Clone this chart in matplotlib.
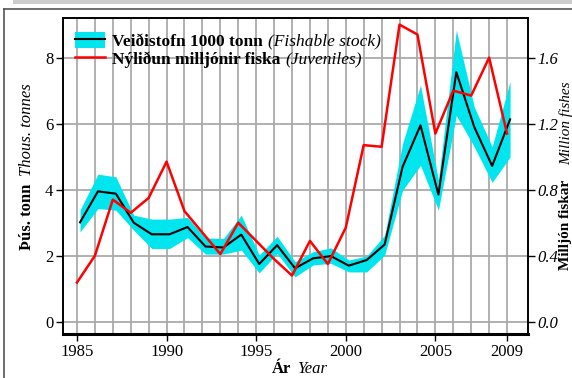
import matplotlib
matplotlib.use("Agg")
import matplotlib.pyplot as plt
from matplotlib.patches import Patch, Rectangle
from matplotlib.lines import Line2D

plt.rcParams['font.family'] = ['Liberation Serif', 'DejaVu Serif']

# fishable stock, 1000 tonnes (estimated start of year)
years = list(range(1985, 2010))
stofn = [3.01, 3.95, 3.88, 3.0, 2.65, 2.65, 2.87, 2.28, 2.25, 2.64, 1.75, 2.32, 1.62,
         1.92, 1.99, 1.70, 1.87, 2.34, 4.69, 5.95, 3.85, 7.56, 5.90, 4.72, 6.13]
stofn_upp = [3.38, 4.47, 4.39, 3.23, 3.11, 3.11, 3.16, 2.54, 2.52, 3.23, 2.02, 2.59, 1.82,
             2.12, 2.24, 1.87, 1.99, 2.62, 5.40, 7.16, 4.29, 8.83, 6.51, 5.30, 7.28]
stofn_nid = [2.72, 3.43, 3.38, 2.77, 2.22, 2.22, 2.55, 2.05, 2.05, 2.17, 1.48, 2.07, 1.36,
             1.72, 1.77, 1.51, 1.51, 2.02, 3.98, 4.74, 3.38, 6.25, 5.30, 4.22, 4.99]
# juveniles, million fish
nylidun = [0.238, 0.40, 0.74, 0.66, 0.75, 0.97, 0.67, 0.54, 0.41, 0.60, 0.49, 0.38, 0.28,
           0.49, 0.35, 0.57, 1.07, 1.06, 1.80, 1.74, 1.14, 1.40, 1.37, 1.60, 1.14]

xticks = [1985, 1990, 1995, 2000, 2005, 2009]
yticks = [0, 2, 4, 6, 8]
y2ticks = [0.0, 0.4, 0.8, 1.2, 1.6]

x_stofn = [y + 0.17 for y in years]

W, H = 572, 378
fig = plt.figure(figsize=(W/100, H/100), dpi=100)
ax = fig.add_axes([63/W, 1-334/H, 465/W, 316/H])

# frame decoration
fig.add_artist(Rectangle((13/W, 1-4/H), 1, 4/H, transform=fig.transFigure,
                         color='#cccccc', lw=0))
fig.add_artist(Line2D([3.5/W, 1], [1-8.5/H, 1-8.5/H], transform=fig.transFigure,
                      color='#555555', lw=1.2))
fig.add_artist(Line2D([3.5/W, 3.5/W], [0, 1-8.5/H], transform=fig.transFigure,
                      color='#555555', lw=1.2))

for yr in years:
    ax.axvline(yr, color='#aaaaaa', lw=1.3, zorder=0)
for t in yticks:
    ax.axhline(t, color='#aaaaaa', lw=1.3, zorder=0)

ax.fill_between(x_stofn, stofn_nid, stofn_upp, color='#00e5ee', lw=0, zorder=2)
ax.plot(x_stofn, stofn, color='black', lw=1.5, zorder=3)

ax.set_xlim(1984.22, 2010.17)
ax.set_ylim(-0.37, 9.2)
ax.set_xticks(xticks)
ax.set_yticks(yticks)
ax.tick_params(labelsize=12, length=5, width=1, direction='out', pad=2)
for s in ['left', 'top', 'right']:
    ax.spines[s].set_linewidth(1.2)
ax.spines['bottom'].set_linewidth(2.2)

ax2 = ax.twinx()
ax2.plot(years, nylidun, color='red', lw=1.8, zorder=4)
ax2.set_ylim(-0.37*0.2, 9.2*0.2)
ax2.set_yticks(y2ticks)
ax2.set_yticklabels(['%.1f' % v for v in y2ticks], fontstyle='italic')
ax2.tick_params(labelsize=12, length=5, width=1, direction='out', pad=1.5)
for s in ['left', 'top', 'right']:
    ax2.spines[s].set_linewidth(1.2)
ax2.spines['bottom'].set_visible(False)

# legend
handles = [(Patch(color='#00e5ee', lw=0), Line2D([], [], color='black', lw=1.5)),
           Line2D([], [], color='red', lw=1.8)]
leg = ax2.legend(handles, ['Veiðistofn 1000 tonn', 'Nýliðun milljónir fiska'],
                 loc='upper left', bbox_to_anchor=(0.0, 0.995), frameon=False,
                 prop={'weight': 'bold', 'size': 12.5}, handlelength=1.7,
                 handleheight=1.05, labelspacing=0.0, borderpad=0.2, handletextpad=0.45)
fig.canvas.draw()
italics = ['(Fishable stock)', '(Juveniles)']
for t, it in zip(leg.get_texts(), italics):
    bb = t.get_window_extent()
    fig.text((bb.x1 + 5) / W, bb.y0 / H, it, ha='left', va='bottom',
             fontsize=12.5, fontstyle='italic')

# axis labels
fig.text(27/W, 1-250/H, 'Þús. tonn', rotation=90, ha='center', va='bottom',
         fontsize=12, fontweight='bold')
fig.text(27/W, 1-176/H, 'Thous. tonnes', rotation=90, ha='center', va='bottom',
         fontsize=12, fontstyle='italic')
fig.text(566/W, 1-270/H, 'Milljón fiskar', rotation=90, ha='center', va='bottom',
         fontsize=11, fontweight='bold')
fig.text(566/W, 1-165/H, 'Million fishes', rotation=90, ha='center', va='bottom',
         fontsize=11, fontstyle='italic')
fig.text(291/W, 1-369/H, 'Ár', ha='right', va='center', fontsize=12, fontweight='bold')
fig.text(297/W, 1-369/H, 'Year', ha='left', va='center', fontsize=12, fontstyle='italic')

fig.savefig('out.png', dpi=100)
